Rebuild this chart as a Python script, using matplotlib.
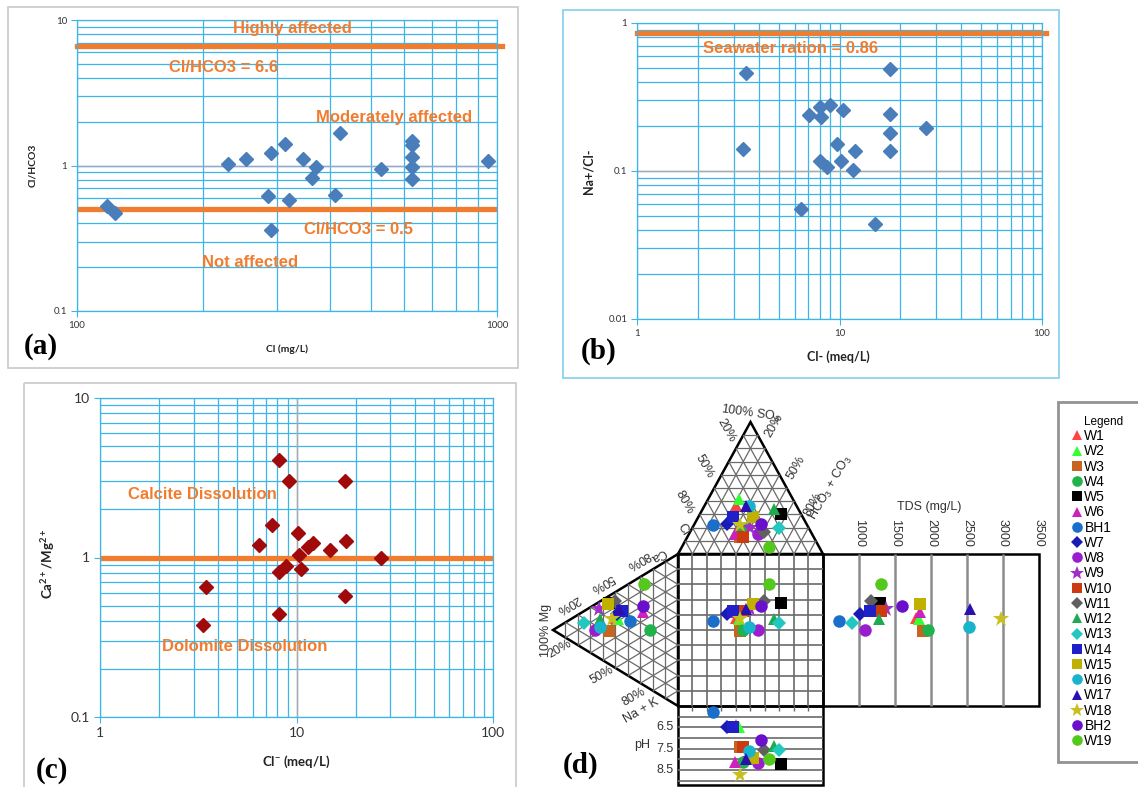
import numpy as np
import matplotlib
matplotlib.use('Agg')
import matplotlib.pyplot as plt
from matplotlib.patches import Rectangle, Polygon
from matplotlib.ticker import LogLocator, NullFormatter
from matplotlib.transforms import Affine2D

plt.rcParams['font.family'] = ['Liberation Sans', 'DejaVu Sans']
plt.rcParams['mathtext.default'] = 'regular'

# ---- (a) Cl (mg/L) vs Cl/HCO3
cl_mgl = [118, 123, 229, 252, 290, 312, 285, 320, 290, 346, 370, 362, 423, 411,
          529, 628, 628, 628, 628, 628, 952]
cl_hco3 = [0.53, 0.47, 1.03, 1.11, 1.22, 1.40, 0.62, 0.58, 0.36, 1.10, 0.98, 0.82,
           1.66, 0.63, 0.95, 1.48, 1.38, 1.15, 0.98, 0.81, 1.07]

# ---- (b) Cl- (meq/L) vs Na+/Cl-
cl_meq_b = [3.47, 3.32, 7.04, 8.04, 8.12, 9.01, 10.4, 7.98, 8.68, 9.72, 10.2, 11.9,
            11.6, 6.48, 14.9, 17.8, 17.8, 17.8, 17.8, 26.8]
na_cl = [0.46, 0.14, 0.24, 0.27, 0.23, 0.28, 0.26, 0.117, 0.107, 0.152, 0.117, 0.137,
         0.101, 0.055, 0.044, 0.49, 0.244, 0.182, 0.137, 0.194]

# ---- (c) Cl- (meq/L) vs Ca/Mg
cl_meq_c = [8.19, 9.11, 17.7, 7.49, 10.2, 6.48, 11.5, 12.1, 14.8, 17.9, 10.3, 27.0,
            8.86, 8.10, 10.5, 3.47, 17.7, 8.19, 3.33]
ca_mg = [4.06, 3.0, 3.0, 1.59, 1.42, 1.19, 1.17, 1.23, 1.12, 1.26, 1.04, 1.0,
         0.89, 0.81, 0.85, 0.65, 0.57, 0.44, 0.38]

# ---- (d) Durov diagram, % meq
wells = ['W1', 'W2', 'W3', 'W4', 'W5', 'W6', 'BH1', 'W7', 'W8', 'W9', 'W10', 'W11',
         'W12', 'W13', 'W14', 'W15', 'W16', 'W17', 'W18', 'BH2', 'W19']
ca = [33, 33, 22, 39, 40, 48, 37, 36, 17, 32, 40, 44, 26, 17, 40, 39, 21, 40, 31, 52, 67]
mg = [50, 48, 55, 22, 55, 28, 38, 49, 66, 63, 45, 50, 62, 75, 45, 56, 62, 47, 53, 28, 27]
nak = [17, 19, 23, 39, 5, 24, 25, 15, 17, 5, 15, 6, 12, 8, 15, 5, 17, 13, 16, 20, 6]
cl = [42, 37, 51, 45, 14, 53, 65, 55, 37, 40, 49, 32, 17, 20, 48, 34, 33, 35, 46, 31, 35]
so4 = [36, 42, 13, 20, 30, 15, 22, 23, 15, 20, 13, 17, 34, 20, 28, 28, 36, 36, 22, 23, 5]
hco3 = [22, 21, 36, 35, 56, 32, 13, 22, 48, 40, 38, 51, 49, 60, 24, 38, 31, 29, 32, 46, 60]
tds = [1790, 1830, 1890, 1960, 1290, 1850, 720, 1010, 1080, 1380, 1310, 1170, 1280, 900,
       1150, 1850, 2530, 2540, 2970, 1600, 1300]
ph = [6.4, 6.5, 7.4, 8.1, 8.2, 8.1, 5.8, 6.5, 8.15, 8.0, 7.4, 7.55, 7.35, 7.55, 6.5,
      7.95, 7.6, 8.0, 8.75, 7.1, 8.0]

well_markers = ['^', '^', 's', 'o', 's', '^', 'o', 'D', 'o', '*', 's', 'D',
                '^', 'D', 's', 's', 'o', '^', '*', 'o', 'o']
well_colors = ['#ff4444', '#33ff33', '#c8641e', '#22b24c', '#000000', '#cc22bb',
               '#1a6ecc', '#1a1ab4', '#9a1fcc', '#a030c8', '#cc3a10', '#606060',
               '#1eaa50', '#20c8c0', '#2020c8', '#c0b000', '#18b4cc', '#2a10b0',
               '#c8c020', '#6a10cc', '#55c81e']

W, H = 1138, 787
GRID = '#3db5e6'
ORANGE = '#f07d2f'
BLUE = '#4a7ebb'
DARKRED = '#a00a0a'

fig = plt.figure(figsize=(W / 100, H / 100), dpi=100)


def px_rect(x0, y0, x1, y1):
    return [x0 / W, 1 - y1 / H, (x1 - x0) / W, (y1 - y0) / H]


def log_panel(box, xlim, ylim, ticksize):
    ax = fig.add_axes(px_rect(*box))
    ax.set_xscale('log')
    ax.set_yscale('log')
    ax.set_xlim(*xlim)
    ax.set_ylim(*ylim)
    xt = [t for t in [0.01, 0.1, 1, 10, 100, 1000] if xlim[0] <= t <= xlim[1]]
    yt = [t for t in [0.01, 0.1, 1, 10, 100, 1000] if ylim[0] <= t <= ylim[1]]
    ax.set_xticks(xt, [f'{t:g}' for t in xt])
    ax.set_yticks(yt, [f'{t:g}' for t in yt])
    for a in (ax.xaxis, ax.yaxis):
        a.set_minor_locator(LogLocator(base=10, subs=np.arange(2, 10)))
        a.set_minor_formatter(NullFormatter())
    ax.grid(True, which='both', color=GRID, lw=0.9)
    ax.set_axisbelow(True)
    ax.tick_params(which='major', length=4, width=0.8, color=GRID,
                   labelsize=ticksize, labelcolor='#333333', pad=3)
    ax.tick_params(which='minor', length=0)
    for t in ax.get_xticklabels() + ax.get_yticklabels():
        t.set_fontfamily(['Lato', 'DejaVu Sans'])
    for sp in ax.spines.values():
        sp.set_color(GRID)
        sp.set_linewidth(0.9)
    return ax


def note(ax, x, y, s):
    ax.text(x, y, s, ha='center', va='center', color=ORANGE, fontsize=12,
            fontweight='bold')


LBL = dict(fontweight='bold', fontfamily=['Lato', 'DejaVu Sans'], color='#222222')

# (a)
ax_a = log_panel((77, 20, 497, 311), (100, 1000), (0.1, 10), 7)
ax_a.axhline(1, color='#9aa6c8', lw=1)
ax_a.axhline(6.6, xmax=1.012, color=ORANGE, lw=3.8, clip_on=False)
ax_a.axhline(0.5, color=ORANGE, lw=3.8)
ax_a.plot(cl_mgl, cl_hco3, 'D', color=BLUE, ms=7.5, mec=BLUE)
note(ax_a, 325, 8.8, 'Highly affected')
note(ax_a, 223, 4.68, 'Cl/HCO3 = 6.6')
note(ax_a, 569, 2.15, 'Moderately affected')
note(ax_a, 467, 0.366, 'Cl/HCO3 = 0.5')
note(ax_a, 258, 0.214, 'Not affected')
ax_a.set_xlabel('Cl (mg/L)', fontsize=7.5, **LBL)
ax_a.set_ylabel('Cl/HCO3', fontsize=7.5, **LBL)
ax_a.xaxis.set_label_coords(0.5, -0.115)
ax_a.yaxis.set_label_coords(-0.095, 0.5)

# (b)
ax_b = log_panel((637, 23, 1042, 319), (1, 100), (0.01, 1), 7)
ax_b.axhline(0.1, color='#aaaaaa', lw=1)
ax_b.axhline(0.86, xmax=1.01, color=ORANGE, lw=3.8, clip_on=False)
ax_b.plot(cl_meq_b, na_cl, 'D', color=BLUE, ms=7.5, mec=BLUE)
note(ax_b, 5.72, 0.67, 'Seawater ration = 0.86')
ax_b.set_xlabel('Cl- (meq/L)', fontsize=9, **LBL)
ax_b.set_ylabel('Na+/Cl-', fontsize=9, **LBL)
ax_b.xaxis.set_label_coords(0.497, -0.105)
ax_b.yaxis.set_label_coords(-0.105, 0.5)

# (c)
ax_c = log_panel((100, 398, 493, 717), (1, 100), (0.1, 10), 10)
ax_c.axvline(10, color='#aaaaaa', lw=1)
ax_c.axhline(1, color=ORANGE, lw=3.8)
ax_c.plot(cl_meq_c, ca_mg, 'D', color=DARKRED, ms=6.8, mec=DARKRED)
note(ax_c, 3.30, 2.47, 'Calcite Dissolution')
note(ax_c, 5.48, 0.278, 'Dolomite Dissolution')
ax_c.set_xlabel(r'Cl$^{-}$ (meq/L)', fontsize=9.5, **LBL)
ax_c.set_ylabel(r'Ca$^{2+}$/Mg$^{2+}$', fontsize=9.5, **LBL)
ax_c.xaxis.set_label_coords(0.5, -0.115)
ax_c.yaxis.set_label_coords(-0.11, 0.48)

# (d) overlay in pixel units
ax_d = fig.add_axes([0, 0, 1, 1])
ax_d.set_xlim(0, W)
ax_d.set_ylim(H, 0)
ax_d.axis('off')
ax_d.patch.set_visible(False)

# panel frames and letters
ax_d.add_patch(Rectangle((8, 7), 510, 361, fill=False, ec='#c8c8c8', lw=1.2))
ax_d.add_patch(Rectangle((563, 10), 496, 368, fill=False, ec='#7fd0ee', lw=1.2))
ax_d.add_patch(Rectangle((24, 383), 492, 420, fill=False, ec='#c8c8c8', lw=1.2,
                         clip_on=False))
SERIF = dict(fontfamily=['Liberation Serif', 'DejaVu Serif'], fontweight='bold',
             fontsize=21, ha='center', va='center')
ax_d.text(41, 346, '(a)', **SERIF)
ax_d.text(599, 351, '(b)', **SERIF)
ax_d.text(52, 771, '(c)', **SERIF)
ax_d.text(581, 765, '(d)', **SERIF)

SQ_L, SQ_B, SQ_W, SQ_H = 678, 706, 145, 152
TRI_H = 132 / SQ_H
LTRI_W = 125 / SQ_W
TDS_W = 216 / SQ_W
PH_H = 79 / SQ_H
TDS_MIN, TDS_MAX = 500, 3500
PH_MIN, PH_MAX = 5.5, 9.2
dt = Affine2D().scale(SQ_W, -SQ_H).translate(SQ_L, SQ_B) + ax_d.transData


def top_uv(c, s, h):
    return h + 0.5 * s, 1 + s * TRI_H


def left_uv(a, m, n):
    return -m * LTRI_W, 1 - (n + 0.5 * m)


def tds_u(t):
    return 1 + (t - TDS_MIN) / (TDS_MAX - TDS_MIN) * TDS_W


def ph_v(p):
    return -(p - PH_MIN) / (PH_MAX - PH_MIN) * PH_H


def seg(p, q, **kw):
    ax_d.plot([p[0], q[0]], [p[1], q[1]], transform=dt, solid_capstyle='butt', **kw)


GL = dict(color='#6a6a6a', lw=0.9)
for k in range(1, 10):
    f = k / 10
    for fn in (top_uv, left_uv):
        seg(fn(1 - f, f, 0), fn(0, f, 1 - f), **GL)
        seg(fn(f, 1 - f, 0), fn(f, 0, 1 - f), **GL)
        seg(fn(1 - f, 0, f), fn(0, 1 - f, f), **GL)
    seg((f, 0), (f, 1), color='#6a6a6a', lw=1.2)
    seg((0, f), (1, f), color='#6a6a6a', lw=1.2)
    seg((f, 0), (f, -0.035), color='#6a6a6a', lw=1.0)
for t in range(1000, 3001, 500):
    seg((tds_u(t), 0), (tds_u(t), 1), color='#8c8c8c', lw=1.8)
for p in np.arange(6.0, 9.01, 0.5):
    seg((0, ph_v(p)), (1, ph_v(p)), color='#6a6a6a', lw=1.2)

OL = dict(fill=False, ec='black', lw=1.8, transform=dt, joinstyle='miter')
ax_d.add_patch(Polygon([top_uv(1, 0, 0), top_uv(0, 1, 0), top_uv(0, 0, 1)], **OL))
ax_d.add_patch(Polygon([left_uv(1, 0, 0), left_uv(0, 1, 0), left_uv(0, 0, 1)], **OL))
ax_d.add_patch(Rectangle((0, 0), 1, 1, **OL))
ax_d.add_patch(Rectangle((1, 0), TDS_W, 1, **OL))
ax_d.add_patch(Rectangle((0, ph_v(PH_MAX)), 1, -ph_v(PH_MAX), **OL))

# diagram labels
TX = dict(fontsize=9, color='#333333', ha='center', va='center')
ax_d.text(751, 414, r'100% SO$_4$', rotation=-8, **TX)
for s, x, y in [('20%', 726, 430), ('50%', 704, 466), ('80%', 684, 502), ('Cl', 683, 530)]:
    ax_d.text(x, y, s, rotation=-60, **TX)
for s, x, y in [('20%', 774, 426), ('50%', 796, 468), ('80%', 813, 505)]:
    ax_d.text(x, y, s, rotation=60, **TX)
ax_d.text(831, 488, r'HCO$_3$ + CO$_3$', rotation=60, **TX)
for s, x, y in [('Ca', 658, 555), ('80%', 638, 560), ('50%', 602, 583), ('20%', 568, 604)]:
    ax_d.text(x, y, s, rotation=210, **TX)
ax_d.text(546, 630, '100% Mg', rotation=90, **TX)
for s, x, y in [('20%', 560, 649), ('50%', 602, 675), ('80%', 634, 697), ('Na + K', 641, 711)]:
    ax_d.text(x, y, s, rotation=30, **TX)
for p in (6.5, 7.5, 8.5):
    ax_d.text(-0.03, ph_v(p), f'{p}', transform=dt, fontsize=9, color='#333333',
              ha='right', va='center')
ax_d.text(642, 745, 'pH', **TX)
for t in range(1000, 3501, 500):
    ax_d.text(tds_u(t), 1.14, str(t), transform=dt, rotation=-90, **TX)
ax_d.text(929, 507, 'TDS (mg/L)', **TX)

handles = []
for i, name in enumerate(wells):
    c_, s_, h_ = cl[i] / 100, so4[i] / 100, hco3[i] / 100
    a_, m_, n_ = ca[i] / 100, mg[i] / 100, nak[i] / 100
    tu, tv = top_uv(c_, s_, h_)
    lu, lv = left_uv(a_, m_, n_)
    us = [tu, lu, tu, tds_u(tds[i]), tu]
    vs = [tv, lv, lv, lv, ph_v(ph[i])]
    mk = well_markers[i]
    ms = {'^': 9, 's': 8, 'o': 9, 'D': 7, '*': 12}[mk]
    ln, = ax_d.plot(us, vs, linestyle='none', marker=mk, ms=ms, color=well_colors[i],
                    mew=0, transform=dt, label=name)
    handles.append(ln)

leg = fig.legend(handles, wells, loc='upper left',
                 bbox_to_anchor=(1058 / W, 0, 0.08, 1 - 402 / H), mode='expand',
                 title='Legend', title_fontsize=8.5, fontsize=10, frameon=True,
                 fancybox=False, edgecolor='#777777', borderpad=1.0,
                 labelspacing=0.09, handlelength=0.8, handletextpad=0.1,
                 markerscale=0.85, borderaxespad=0)
leg.get_frame().set_linewidth(2)

fig.savefig('out.png', dpi=100, facecolor='white')
